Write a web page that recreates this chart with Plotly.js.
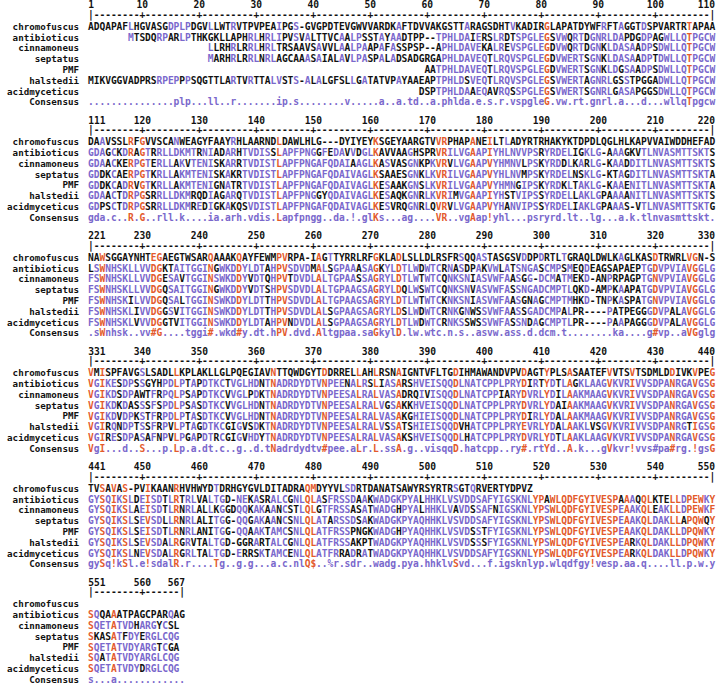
<!DOCTYPE html>
<html><head><meta charset="utf-8">
<script src="https://cdn.plot.ly/plotly-3.0.1.min.js"></script>
<style>html,body{margin:0;padding:0;background:#fff}#chart{width:717px;height:688px}</style>
</head><body><div id="chart"></div>
<script>
// ---------------- DATA ----------------
const seqNames = ["chromofuscus","antibioticus","cinnamoneus","septatus","PMF","halstedii","acidmyceticus"];
const blockStart = [1,111,221,331,441,551];
const blockEnd   = [110,220,330,440,550,567];
const rulerTicks = [
  [1,10,20,30,40,50,60,70,80,90,100,110],
  [111,120,130,140,150,160,170,180,190,200,210,220],
  [221,230,240,250,260,270,280,290,300,310,320,330],
  [331,340,350,360,370,380,390,400,410,420,430,440],
  [441,450,460,470,480,490,500,510,520,530,540,550],
  [551,560,567]
];

const chromofuscus = [
  "ADQAPAFLHGVASGDPLPDGVLLWTRVTPVPEAIPGS-GVGPDTEVGWVVARDKAFTDV"+"VAKGSTTARAGSDHTVKADIRGLAPATDYWFRFTAGGTDSPVARTRTAPAA",
  "DAAVSSLRF"+"GVVSCANWEAGYFAAYRHLAARNDLDAWLHLG---DYIYEYKSGEYAARG"+"TVVRPHAPANEILTLADYRTRHAKYKTDPDLQGLHLKAPVVAIWDDHEFAD",
  "NAWSGGAYNHTEGAEGTWSARQAAAKQAYFEWMPVRPA-IAGTTYRRLRFGKLADLSLLDLRSFRSQQASTASGSVDDPDRTLTGRAQLDWLKAGLKASDTRWRLVGN-S",
  "VMISPFAVG"+"SLSADLLKPLAKLLGLPQEGIAVNTTQWDGYTDDRRELLAHLRSNAIGNT"+"VFLTGDIHMAWANDVPVDAGTYPLSASAATEFVVTSVTSDMLDDIVKVPEG",
  "TVSAVAS-P"+"VIKAANRHVHWYDTDRHGYGVLDITADRAQMDYYVLSDRTDANATSAWYR"+"SYRTRSGTQRVERTYDPVZ",
  ""
];
const antibioticus = [
  "       "+"MTSDQRPARLPTHKGKLLAPHRLHRLIPVSVALTTVCAALPSSTAYAADTPP"+"--TPHLDAIERSLRDTSPGLEGSVWQRTDGNRLDAPDGDPAGWLLQTPGCW",
  "GDAGCKDRA"+"GTRRLLDKMTRNIADARHTVDISSLAPFPNGGFEDAVVDGLKAVVAAGHS"+"PRVRILVGAAPIYHLNVVPSRYRDELIGKLG-AAAGKVTLNVASMTTSKTS",
  "LSWNHSKLL"+"VVDGKTAITGGINGWKDDYLDTAHPVSDVDMALSGPAAASAGKYLDTLWD"+"WTCRNASDPAKVWLATSNGASCMPSMEQDEAGSAPAEPTGDVPVIAVGGLG",
  "VGIKESDPS"+"SGYHPDLPTAPDTKCTVGLHDNTNADRDYDTVNPEENALRSLIASARSHV"+"EISQQDLNATCPPLPRYDIRTYDTLAGKLAAGVKVRIVVSDPANRGAVGSG",
  "GYSQIKSLD"+"EISDTLRTRLVALTGD-NEKASRALCGNLQLASFRSSDAAKWADGKPYAL"+"HHKLVSVDDSAFYIGSKNLYPAWLQDFGYIVESPAAAQQLKTELLDPEWKY",
  "SQQAAATPAGCPARQAG"
];
const cinnamoneus = [
  "                     "+"LLRHRLRRLHRLTRSAAVSAVVLAALPAAPAFASSPSP"+"--APHLDAVEKALREVSPGLEGDVWQRTDGNKLDASAADPSDWLLQTPGCW",
  "GDAACKERP"+"GTERLLAKVTENISKARRTVDISTLAPFPNGAFQDAIAAGLKASVASGNK"+"PKVRVLVGAAPVYHMNVLPSKYRDDLKARLG-KAADDITLNVASMTTSKTS",
  "FSWNHSKLL"+"VVDGESAVTGGINSWKDDYVDTQHPVTDVDLALTGPAASSAGRYLDTLWT"+"WTCQNKSNIASVWFAASGG-DCMATMEKD-ANPRPAGPTGNVPVIAVGGLG",
  "VGIKDSDPA"+"WTFRPQLPSAPDTKCVVGLPDKTNADRDYDTVNPEESALRALVASADRQI"+"VISQQDLNATCPPIARYDVRLYDILAAKMAAGVKVRIVVSDPANRGAVGSG",
  "GYSQIKSLA"+"EISDTLRNRLALLKGGDQQKAKAANCSTLQLGTFRSSASATWADGHPYAL"+"HHKLVAVDSSAFNIGSKNLYPSWLQDFGYIVESPEAAKQLEAKLLDPEWKF",
  "SQETATVDHARGYCSL"
];
const septatus = [
  "                     "+"MARHRLRRLNRLAGCAAASAIALAVLPASPALADSADG"+"RGAPHLDAVEQTLRQVSPGLEGDVWERTSGNKLDASAADPTDWLLQTPGCW",
  "GDDKCAERP"+"GTKRLLAKMTENISKAKRTVDISTLAPFPNGAFQDAIVAGLKSAAESGNK"+"LKVRILVGAAPVYHLNVMPSKYRDELNSKLG-KTAGDITLNVASMTTSKTA",
  "FSWNHSKLL"+"VVDGQSAITGGINGWKDDYVDTSHPVSDVDLALTGPAAGSAGRYLDQLWS"+"WTCQNKSNVASVWFASSNGADCMPTLQKD-AMPKAAPATGDVPVIAVGGLG",
  "VGIKDKDAS"+"SSFSPDLPSASDTKCVVGLHDNTNADRDYDTVNPEESALRALVGSAKKHV"+"EISQQDLNATCPPLPRYDVRLYDAIAAKMAAGVKVRIVVSDPANRGAVGSG",
  "GYSQIKSLS"+"EVSDLLRNRLALITGG-QQGAKAANCSNLQLATARSSDSAKWADGKPYAQ"+"HHKLVSVDDSAFYIGSKNLYPSWLQDFGYIVESPEAAKQLDAKLLAPQWQY",
  "SKASATFDYERGLCQG"
];
const PMF = [
  "                                                           "+"AATPHLDAVEQTLRQVSPGLEGDVWERTSGNKLDGSAADPSDWLLQTPGCW",
  "GDDKCADRV"+"GTKRLLAKMTENIGNATRTVDISTLAPFPNGAFQDAIVAGLKESAAKGNS"+"LKVRILVGAAPVYHMNGIPSKYRDKLTAKLG-KAAENITLNVASMTTSKTA",
  "FSWNHSKIL"+"VVDGQSALTGGINSWKDDYLDTTHPVSDVDLALTGPAAGSAGRYLDTLWT"+"WTCKNKSNIASVWFAASGNAGCMPTMHKD-TNPKASPATGNVPVIAVGGLG",
  "VGIKDVDPK"+"STFRPDLPTASDTKCVVGLHDNTNADRDYDTVNPEESALRALVASAKGHI"+"EISQQDLNATCPPLPRYDIRLYDALAAKMAAGVKVRIVVSDPANRGAVGSG",
  "GYSQIKSLS"+"EISDTLRNRLANITGG-QQAAKTAMCSNLQLATFRSSPNGKWADGHPYAQ"+"HHKLVSVDSSTFYIGSKNLYPSWLQDFGYIVESPEAAKQLDAKLLDPQWKY",
  "SQETATVDYARGTCGA"
];
const halstedii = [
  "MIKVGGVADPRSRPEPPPSQGTTLARTVRTTALVSTS-ALALGFSLLGATATVPAYAAE"+"APTPHLDSVEQTLRQVSPGLEGSVWERTAGNRLGSSTPGGADWLLQTPGCW",
  "GDAACTDRP"+"GSRRLLDKMRQDIAGARQTVDISTLAPFPNGGYQDAIVAGLKESAQKGNR"+"LKVRIMVGAAPIYHSTVIPSSYRDELLAKLGPAAAANITLNVASMTTSKTS",
  "FSWNHSKLI"+"VVDGGSVITGGINSWKDDYLDTTHPVSDVDLALSGPAAGSAGRYLDSLWD"+"WTCRNKGNWSSVWFAASSGADCMPALPR----PATPEGGGDVPALAVGGLG",
  "VGIRQNDPT"+"SSFRPVLPTAGDTKCGIGVSDKTNADRDYDTVNPEESALRALVSSATSHI"+"EISQQDVHATCPPLPRYEVRLYDALAAKLVSGVKVRIVVSDPANRGTIGSG",
  "GYSQIKSLSEVS"+"DALRGRVTALTGD-GGRARTALCGNLQLATFRSSAKPTWADGKPYAQ"+"HHKLVSVDSSSFYIGSKNLYPSWLQDFGYIVESPEARKQLDAKLLDPQWKY",
  "SQATATVDYARGLCQG"
];
const acidmyceticus = [
  "                                                          "+"D"+"SPTPHLDAAEQAVRQSSPGLEGSVWERTSGNRLGASAPGGSDWLLQTPGCW",
  "GDPSCTDRP"+"GSRRLLDKMREDIGKAKQSVDISTLAPFPNGAFQDAIVAGLKESVRQGNR"+"LQVRVLVGAAPVYHANVIPSSYRDELIAKLGPAAAS-VTLNVASMTTSKTG",
  "FSWNHSKLV"+"VVDGGTVITGGINSWKDDYLDTAHPVNDVDLALSGPAAGSAGRYLDTLWD"+"WTCRNKSSWSSVWFASSNDAGCMPTLPR----PAAPAGGGDVPALAVGGLG",
  "VGIRESDPA"+"SAFNPVLPGAPDTRCGIGVHDYTNADRDYDTVNPEESALRALVASAKSHV"+"EISQQDLHATCPPLPRYDVRLYDTLAAKLAAGVKVRIVVSDPANRGAVGSG",
  "GYSQIKSLNEVSDALRGRLTALTGD-ERRSKTAMCENLQLATFRRADRATWADGKPYAQ"+"HHKLVSVDDSAFYIGSKNLYPSWLQDFGYIVESPEARKQLDAKLLDPQWKY",
  "SQETATVDYDRGLCQG"
];
const consensus = [
  "...............plp...ll..r.......ip.s........v.....a..a.td."+".a.phlda.e.s.r.vspgleG.vw.rt.gnrl.a...d...wllqTpgcw",
  "gda.c..R."+"G..rll.k....ia.arh.vdis.Lapfpngg..da.!.glKs...ag.."+"..VR..vgAap!yhl...psryrd.lt..lg...a.k.tlnvasmttskt.",
  ".sWnhsk..vv#G....tggi#.wkd#y.dt.hPV.dvd.Altgpaa.saGkylD.lw.wtc.n.s..asvw.ass.d.dcm.t........ka....g#vp..aVGglg",
  "VgI...d..S...p.Lp.a.dt.c..g..d.tNadrdydtv#pee.aLr.L.ssA.g..visqqD.hatcpp..ry#.rtYd..A.k...gVkvr!vvs#pa#rg.!gsG",
  "gySq!kSl.e!sdalR.r....Tg..g.g...a.c.nlQ$..%r.sdr..wadg.pya."+"hhklvSvd...f.igsknlyp.wlqdfgy!vesp.aa.q....ll.p.w.y",
  "s...a............"
];

// ---------------- STYLE / LAYOUT CONSTANTS ----------------
const RED = "#e35a2c", PURPLE = "#7a68cc", BLACK = "#111111";
const X0 = 91, DX = 5.7, LABEL_X = 79;
const Y0 = 6, BLOCK_H = 115.5, ROW0 = 21.5, ROW_H = 10.8, DASH_DY = 9.5;
const FONT = "DejaVu Sans Mono";
const GROUPS = ["IV","LM","FY","NDQEBZ"];

const seqs = [chromofuscus, antibioticus, cinnamoneus, septatus, PMF, halstedii, acidmyceticus];

function columnColors(res){
  const out = res.map(()=> 'k');
  const present = res.filter(c=>c!==' ').length;
  const cnt = {};
  res.forEach(c=>{ if(/[A-Z]/.test(c)) cnt[c]=(cnt[c]||0)+1; });
  let best=null,k=0;
  for(const c in cnt){ if(cnt[c]>k){k=cnt[c];best=c;} }
  const big = present>=6;
  if(best && k===present && big){ res.forEach((c,i)=>{ if(c===best) out[i]='r'; }); return {out,level:'r'}; }
  for(const g of GROUPS){
    const gc = res.filter(c=>g.includes(c)).length;
    if(gc===present && big){ res.forEach((c,i)=>{ if(g.includes(c)) out[i]='r'; }); return {out,level:'r'}; }
  }
  if(best && k>=2 && k/present>=0.5){ res.forEach((c,i)=>{ if(c===best) out[i]='p'; }); return {out,level:'p'}; }
  for(const g of GROUPS){
    const gc = res.filter(c=>g.includes(c)).length;
    if(gc>=2 && gc/present>=0.5){ res.forEach((c,i)=>{ if(g.includes(c)) out[i]='p'; }); return {out,level:'p'}; }
  }
  return {out,level:'k'};
}

const buckets = {r:{x:[],y:[],t:[]}, p:{x:[],y:[],t:[]}, k:{x:[],y:[],t:[]}};
function put(b,x,y,t){ buckets[b].x.push(x); buckets[b].y.push(y); buckets[b].t.push(t); }

const lab = {x:[],y:[],t:[]};
const ruler = {x:[],y:[],t:[],pos:[]};
const dash = {x:[],y:[],t:[]};

for(let b=0;b<blockStart.length;b++){
  const n = blockEnd[b]-blockStart[b]+1;
  const yb = Y0 + b*BLOCK_H;
  const rows = seqs.map(s => (s[b] + " ".repeat(n)).slice(0,n));
  const cons = (consensus[b] + " ".repeat(n)).slice(0,n);
  for(let c=0;c<n;c++){
    const x = X0 + c*DX;
    const res = rows.map(r=>r[c]);
    const {out,level} = columnColors(res);
    res.forEach((ch,i)=>{
      if(ch===' ') return;
      put(out[i], x, yb+ROW0+i*ROW_H, ch);
    });
    const cc = cons[c];
    if(cc!==' '){
      let col='p';
      if(/[A-Z]/.test(cc)) col='r';
      else if("!#$%".includes(cc)) col = (level==='r')?'r':'p';
      put(col, x, yb+ROW0+7*ROW_H, cc);
    }
    const num = blockStart[b]+c;
    let d='-';
    if(c===0 || c===n-1) d='|';
    else if(num%10===0) d='+';
    dash.x.push(x); dash.y.push(yb+DASH_DY); dash.t.push(d);
  }
  rulerTicks[b].forEach(t=>{
    const c = t-blockStart[b];
    let x = X0 + c*DX, pos='middle center';
    if(t===blockStart[b]){ x -= DX/2; pos='middle right'; }
    else if(t===blockEnd[b]){ x += DX/2; pos='middle left'; }
    ruler.x.push(x); ruler.y.push(yb); ruler.t.push(String(t)); ruler.pos.push(pos);
  });
  seqNames.concat(["Consensus"]).forEach((nm,i)=>{
    lab.x.push(LABEL_X); lab.y.push(yb+ROW0+i*ROW_H); lab.t.push(nm);
  });
}

function txtTrace(d,color,pos,size){
  return {type:'scatter',mode:'text',x:d.x,y:d.y,text:d.t,hoverinfo:'skip',
    textposition:pos||'middle center',
    textfont:{family:FONT,size:size||9.6,color:color,weight:700},cliponaxis:false};
}

const traces = [
  txtTrace(buckets.k,BLACK),
  txtTrace(buckets.p,PURPLE),
  txtTrace(buckets.r,RED),
  txtTrace(dash,BLACK),
  txtTrace({x:ruler.x,y:ruler.y,t:ruler.t},BLACK,ruler.pos,9.6),
  txtTrace(lab,BLACK,'middle left',9.2)
];

const layout = {
  width:717,height:688,margin:{l:0,r:0,t:0,b:0},
  paper_bgcolor:'#ffffff',plot_bgcolor:'#ffffff',showlegend:false,
  xaxis:{range:[0,717],visible:false,fixedrange:true},
  yaxis:{range:[688,0],visible:false,fixedrange:true}
};
Plotly.newPlot('chart',traces,layout,{staticPlot:true,displayModeBar:false});
</script>
</body></html>
